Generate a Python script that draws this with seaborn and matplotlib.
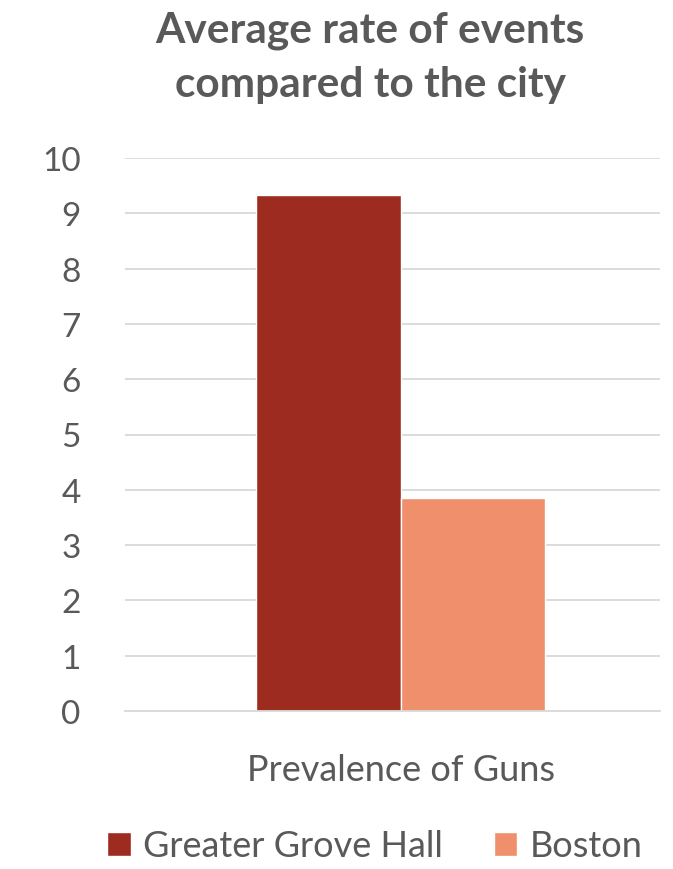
import matplotlib
matplotlib.use("Agg")
import matplotlib.pyplot as plt
import seaborn as sns
import pandas as pd

# Chart data
categories = ["Prevalence of Guns"]
areas = ["Greater Grove Hall", "Boston"]
rates = [9.33, 3.85]
y_ticks = [0, 1, 2, 3, 4, 5, 6, 7, 8, 9, 10]
title_lines = ["Average rate of events", "compared to the city"]

palette = {"Greater Grove Hall": "#9E2B1F", "Boston": "#F08F6C"}
text_grey = "#595959"

sns.set_theme(style="white")
plt.rcParams["font.family"] = ["Lato", "DejaVu Sans"]

df = pd.DataFrame({
    "category": categories * len(areas),
    "area": areas,
    "rate": rates,
})

W, H = 673, 870
fig = plt.figure(figsize=(W / 100, H / 100), dpi=100)
ax = fig.add_axes([125 / W, (H - 712) / H, (660 - 125) / W, (712 - 159) / H])

sns.barplot(data=df, x="category", y="rate", hue="area", palette=palette,
            width=0.8, saturation=1, ax=ax, legend=True)

ax.set_ylim(0, 10)
ax.set_xlim(-0.764, 0.717)
ax.set_yticks(y_ticks)
ax.set_yticklabels([str(t) for t in y_ticks])
ax.yaxis.grid(True, color="#D9D9D9", linewidth=1.3)
ax.set_axisbelow(True)
for s in ["left", "right", "top"]:
    ax.spines[s].set_visible(False)
ax.spines["bottom"].set_color("#D9D9D9")
ax.spines["bottom"].set_linewidth(1.3)
ax.tick_params(axis="y", length=0, pad=32, labelsize=24, labelcolor=text_grey)
ax.tick_params(axis="x", length=0, pad=30, labelsize=26, labelcolor=text_grey)
ax.set_xlabel("")
ax.set_ylabel("")

handles, labels = ax.get_legend_handles_labels()
ax.get_legend().remove()
fig.legend(handles, labels, loc="center", bbox_to_anchor=(0.557, (H - 847) / H),
           ncol=2, frameon=False, fontsize=26, labelcolor=text_grey,
           handlelength=0.65, handleheight=0.65, handletextpad=0.35, columnspacing=1.4)

# Two-line bold title, each line placed on its own baseline
for line, baseline in zip(title_lines, [43, 97]):
    fig.text(370 / W, (H - baseline) / H, line, ha="center", va="baseline",
             fontsize=30.5, fontweight="bold", color=text_grey)

fig.savefig("out.png", dpi=100)
